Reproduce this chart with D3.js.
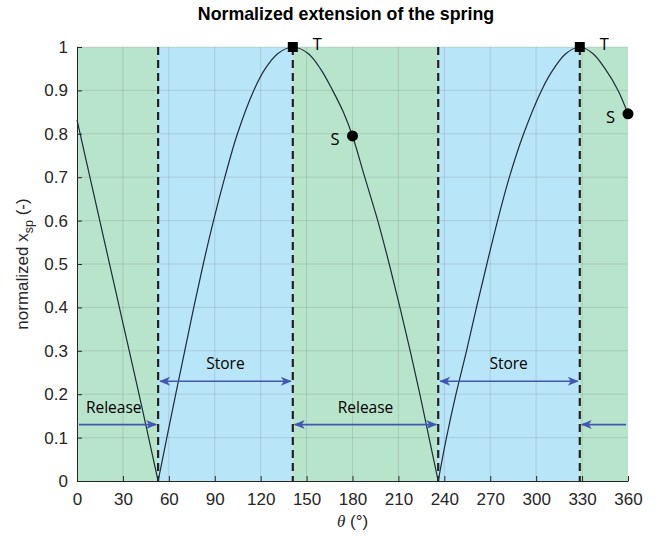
<!DOCTYPE html>
<html>
<head>
<script src="https://d3js.org/d3.v7.min.js"></script>
<style>
    body { margin: 0; background: #fff; font-family: "Liberation Sans", Arial, sans-serif; }
    .note { font-family: "Open Sans", sans-serif; font-size: 15.5px; fill: #000; }
</style>
</head>
<body>
<svg id="chart" width="659" height="541"></svg>
<script>
// crank angle (deg) and normalized spring extension
const theta = [0, 10, 20, 30, 40, 53,
               58.7, 64.5, 70.4, 76.3, 82.5, 89.2, 96.6, 104.8, 115.5, 123, 131.3, 141,
               151, 159, 167, 174, 180, 188, 196.5, 204, 211, 217.7, 224, 230, 236,
               241.4, 247.6, 254.5, 261, 267.8, 274.8, 282.5, 291.8, 303.5, 311.5, 319.5, 328.5,
               337, 345, 353.5, 360];
const xsp = [0.832, 0.676, 0.52, 0.364, 0.208, 0,
             0.1, 0.2, 0.3, 0.4, 0.5, 0.6, 0.7, 0.8, 0.9, 0.95, 0.985, 1,
             0.985, 0.95, 0.9, 0.85, 0.795, 0.7, 0.6, 0.5, 0.4, 0.3, 0.2, 0.1, 0,
             0.1, 0.2, 0.3, 0.4, 0.5, 0.6, 0.7, 0.8, 0.9, 0.95, 0.985, 1,
             0.985, 0.95, 0.9, 0.846];

const phaseEdges = [0, 53, 141, 236, 328.5, 360];
const phaseNames = ["Release", "Store", "Release", "Store", "Release"];
const labelTheta = [24, 97, 188.5, 282, null];

const peakTheta = [141, 328.5];
const sTheta = [180, 360];
const sValue = [0.795, 0.846];

const xTicks = [0, 30, 60, 90, 120, 150, 180, 210, 240, 270, 300, 330, 360];
const yTicks = [0, 0.1, 0.2, 0.3, 0.4, 0.5, 0.6, 0.7, 0.8, 0.9, 1];

const svg = d3.select("#chart");
const margin = { top: 47, right: 31, bottom: 60, left: 77 };
const width = 659 - margin.left - margin.right;
const height = 541 - margin.top - margin.bottom;

const x = d3.scaleLinear().domain([0, 360]).range([0, width]);
const y = d3.scaleLinear().domain([0, 1]).range([height, 0]);

const g = svg.append("g").attr("transform", "translate(" + margin.left + "," + margin.top + ")");

const colors = { Release: "#b9e4cc", Store: "#b9e5f8" };

// shaded phases
g.selectAll("rect.phase").data(phaseNames)
 .join("rect")
 .attr("class", "phase")
 .attr("x", (d, i) => x(phaseEdges[i]))
 .attr("width", (d, i) => x(phaseEdges[i + 1]) - x(phaseEdges[i]))
 .attr("y", 0)
 .attr("height", height)
 .attr("fill", d => colors[d]);

// grid
g.selectAll("line.gx").data(xTicks.slice(1, -1))
 .join("line")
 .attr("x1", d => x(d)).attr("x2", d => x(d))
 .attr("y1", 0).attr("y2", height)
 .attr("stroke", "#262626").attr("stroke-opacity", 0.13);
g.selectAll("line.gy").data(yTicks.slice(1))
 .join("line")
 .attr("x1", 0).attr("x2", width)
 .attr("y1", d => y(d)).attr("y2", d => y(d))
 .attr("stroke", "#262626").attr("stroke-opacity", 0.13);

// axes (ticks pointing inward)
const xAxis = g.append("g").attr("transform", "translate(0," + height + ")")
    .call(d3.axisBottom(x).tickValues(xTicks).tickSizeInner(-5).tickSizeOuter(0).tickPadding(12));
const yAxis = g.append("g")
    .call(d3.axisLeft(y).tickValues(yTicks).tickSizeInner(-5).tickSizeOuter(0).tickPadding(9)
          .tickFormat(d => d3.format("~g")(d)));
[xAxis, yAxis].forEach(a => {
    a.attr("font-size", null).attr("font-family", null);
    a.select(".domain").attr("stroke", "#262626").attr("stroke-width", 1);
    a.selectAll(".tick line").attr("stroke", "#262626");
    a.selectAll(".tick text")
     .style("font-family", "'Liberation Sans', Arial, sans-serif")
     .style("font-size", "17px")
     .style("fill", "#262626");
});

// dashed phase boundaries
g.selectAll("line.bound").data(phaseEdges.slice(1, -1))
 .join("line")
 .attr("x1", d => x(d)).attr("x2", d => x(d))
 .attr("y1", 0).attr("y2", height)
 .attr("stroke", "#222").attr("stroke-width", 2.2)
 .attr("stroke-dasharray", "8,5");

// curve, split at the cusps where it touches zero
const pts = theta.map((t, i) => [t, xsp[i]]);
const pieces = [];
let cur = [];
pts.forEach((p, i) => {
    cur.push(p);
    if (p[1] === 0 && i > 0 && i < pts.length - 1) {
        pieces.push(cur);
        cur = [p];
    }
});
pieces.push(cur);
const line = d3.line().x(d => x(d[0])).y(d => y(d[1])).curve(d3.curveCatmullRom.alpha(0.5));
g.selectAll("path.curve").data(pieces)
 .join("path")
 .attr("d", line)
 .attr("fill", "none")
 .attr("stroke", "#1c2c38")
 .attr("stroke-width", 1.2);

// arrows
const arrowColor = "#4257b2";
const releaseLevel = 0.13, storeLevel = 0.23;
function head(px, py, dir) {
    g.append("path")
     .attr("d", "M0,0 L-11,-4.5 L-8,0 L-11,4.5 Z")
     .attr("transform", "translate(" + px + "," + py + ") rotate(" + (dir > 0 ? 0 : 180) + ")")
     .attr("fill", arrowColor);
}
phaseNames.forEach((name, i) => {
    const lv = name === "Store" ? storeLevel : releaseLevel;
    const x0 = x(phaseEdges[i]), x1 = x(phaseEdges[i + 1]);
    const yy = y(lv);
    g.append("line")
     .attr("x1", x0 + 2).attr("x2", x1 - 2)
     .attr("y1", yy).attr("y2", yy)
     .attr("stroke", arrowColor).attr("stroke-width", 1.6);
    if (i === 0) {
        head(x1 - 1, yy, 1);
    } else if (i === phaseNames.length - 1) {
        head(x0 + 1, yy, -1);
    } else {
        head(x1 - 1, yy, 1);
        head(x0 + 1, yy, -1);
    }
    if (labelTheta[i] !== null) {
        g.append("text")
         .attr("class", "note")
         .attr("x", x(labelTheta[i]))
         .attr("y", yy - 12)
         .attr("text-anchor", "middle")
         .text(name);
    }
});

// T markers at the peaks
g.selectAll("rect.peak").data(peakTheta)
 .join("rect")
 .attr("x", d => x(d) - 5).attr("y", y(1) - 5)
 .attr("width", 10).attr("height", 10)
 .attr("fill", "#000");
g.selectAll("text.t").data(peakTheta)
 .join("text")
 .attr("class", "note")
 .attr("x", d => x(d) + 20).attr("y", y(1) + 3)
 .style("font-size", "16.5px")
 .text("T");

// S markers
g.selectAll("circle.s").data(sTheta)
 .join("circle")
 .attr("cx", d => x(d)).attr("cy", (d, i) => y(sValue[i]))
 .attr("r", 5.5)
 .attr("fill", "#000");
g.selectAll("text.s").data(sTheta)
 .join("text")
 .attr("class", "note")
 .attr("x", d => x(d) - 13).attr("y", (d, i) => y(sValue[i]) + 9)
 .attr("text-anchor", "end")
 .style("font-size", "16.5px")
 .text("S");

// title and axis labels
svg.append("text")
   .attr("x", 346).attr("y", 20)
   .attr("text-anchor", "middle")
   .style("font-size", "17.8px").style("font-weight", "bold")
   .text("Normalized extension of the spring");

const xl = svg.append("text")
   .attr("x", margin.left + width / 2).attr("y", 527)
   .attr("text-anchor", "middle")
   .style("font-size", "17px").style("fill", "#262626");
xl.append("tspan").style("font-family", "'Liberation Serif', serif").style("font-style", "italic").text("θ");
xl.append("tspan").text(" (°)");

const yl = svg.append("text")
   .attr("transform", "translate(28," + (margin.top + height / 2) + ") rotate(-90)")
   .attr("text-anchor", "middle")
   .style("font-size", "17px").style("fill", "#262626");
yl.append("tspan").text("normalized x");
yl.append("tspan").attr("dy", 5).style("font-size", "12.5px").text("sp");
yl.append("tspan").attr("dy", -5).text(" (-)");
</script>
</body>
</html>
